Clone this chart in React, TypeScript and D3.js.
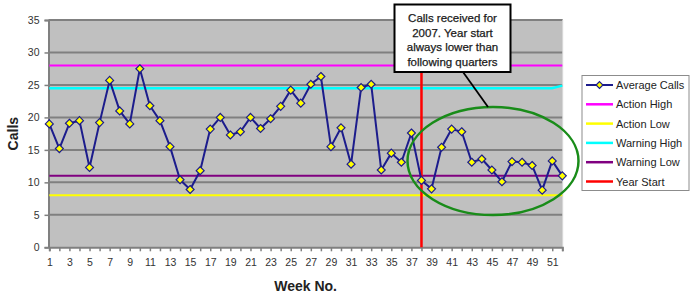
import React, { useEffect, useRef } from 'react';
import * as d3 from 'd3';

const weeks = d3.range(1, 53);
const averageCalls = [
  19.0, 15.2, 19.1, 19.5, 12.3, 19.2, 25.7, 21.0, 19.0, 27.5,
  21.8, 19.5, 15.5, 10.4, 8.9, 11.8, 18.2, 20.0, 17.3, 17.8,
  20.0, 18.3, 19.8, 21.7, 24.2, 22.2, 25.1, 26.3, 15.5, 18.4,
  12.8, 24.6, 25.1, 11.9, 14.5, 13.1, 17.6, 10.3, 9.0, 15.4,
  18.2, 17.8, 13.1, 13.6, 11.9, 10.1, 13.2, 13.1, 12.6, 8.8,
  13.3, 11.0,
];
const actionHigh = 28;
const actionLow = 8;
const warningHigh = 24.5;
const warningHighLastWeek = 24.9;
const warningLow = 11;
const yearStartWeek = 38;
const yTicks = [0, 5, 10, 15, 20, 25, 30, 35];
const xTickLabels = d3.range(1, 53, 2);
const legendItems = [
  { name: 'Average Calls', color: '#1c1c8c' },
  { name: 'Action High', color: '#ff00ff' },
  { name: 'Action Low', color: '#ffff00' },
  { name: 'Warning High', color: '#00ffff' },
  { name: 'Warning Low', color: '#800080' },
  { name: 'Year Start', color: '#ff0000' },
];
const noteLines = ['Calls received for', '2007. Year start', 'always lower than', 'following quarters'];

const App = () => {
  const svgRef = useRef(null);

  useEffect(() => {
    const svg = d3.select(svgRef.current);
    svg.selectAll('*').remove();
    const font = '"Liberation Sans", Arial, sans-serif';

    const left = 48.5, right = 562.7, top = 20, bottom = 247.3;

    const x = d3.scaleLinear().domain([1, 52]).range([49.3, 562.3]);
    const y = d3.scaleLinear().domain([0, 35]).range([bottom, top]);

    // plot background
    svg.append('rect')
      .attr('x', left).attr('y', top)
      .attr('width', right - left).attr('height', bottom - top)
      .attr('fill', '#c0c0c0');

    // gridlines
    svg.append('g')
      .selectAll('line')
      .data(yTicks.filter(d => d > 0))
      .enter().append('line')
      .attr('x1', left).attr('x2', right)
      .attr('y1', d => y(d)).attr('y2', d => y(d))
      .attr('stroke', '#808080')
      .attr('stroke-width', 2);

    svg.append('line')
      .attr('x1', right).attr('x2', right).attr('y1', top).attr('y2', bottom)
      .attr('stroke', '#d8d8d8').attr('stroke-width', 1);

    // y axis
    const yAxis = svg.append('g')
      .attr('transform', `translate(${left},0)`)
      .call(d3.axisLeft(y).tickValues(yTicks).tickSize(4).tickPadding(5));
    yAxis.select('.domain').attr('stroke', '#808080').attr('stroke-width', 2);
    yAxis.selectAll('.tick line').attr('stroke', '#808080').attr('stroke-width', 1.5);
    yAxis.selectAll('text')
      .attr('font-family', font).attr('font-size', 10.5).attr('fill', '#333');

    // x axis
    const xAxis = svg.append('g')
      .attr('transform', `translate(0,${bottom})`)
      .call(d3.axisBottom(x).tickValues(weeks).tickSize(4).tickPadding(7)
        .tickFormat(d => (xTickLabels.includes(d) ? String(d) : '')));
    xAxis.select('.domain').attr('stroke', '#808080').attr('stroke-width', 2);
    xAxis.selectAll('.tick line').attr('stroke', '#808080').attr('stroke-width', 1.5);
    xAxis.selectAll('text')
      .attr('font-family', font).attr('font-size', 10.5).attr('fill', '#333');

    // limit lines
    const hLine = (value, color, w) => svg.append('line')
      .attr('x1', x(1)).attr('x2', x(52))
      .attr('y1', y(value)).attr('y2', y(value))
      .attr('stroke', color).attr('stroke-width', w);
    hLine(actionHigh, '#ff00ff', 2);
    hLine(actionLow, '#ffff00', 2);
    hLine(warningLow, '#800080', 2);

    const whData = weeks.map(w => (w === 52 ? warningHighLastWeek : warningHigh));
    svg.append('path')
      .datum(whData)
      .attr('fill', 'none')
      .attr('stroke', '#00ffff')
      .attr('stroke-width', 2.5)
      .attr('d', d3.line().x((d, i) => x(weeks[i])).y(d => y(d)));

    // year start
    svg.append('line')
      .attr('x1', x(yearStartWeek)).attr('x2', x(yearStartWeek))
      .attr('y1', y(35)).attr('y2', y(0))
      .attr('stroke', '#ff0000').attr('stroke-width', 2.5);

    // average calls
    svg.append('path')
      .datum(averageCalls)
      .attr('fill', 'none')
      .attr('stroke', '#1c1c8c')
      .attr('stroke-width', 2)
      .attr('stroke-linejoin', 'round')
      .attr('d', d3.line().x((d, i) => x(weeks[i])).y(d => y(d)));

    svg.append('g')
      .selectAll('path')
      .data(averageCalls)
      .enter().append('path')
      .attr('transform', (d, i) => `translate(${x(weeks[i])},${y(d)})`)
      .attr('d', d3.symbol(d3.symbolDiamond2, 40))
      .attr('fill', '#ffff00')
      .attr('stroke', '#1c1c8c')
      .attr('stroke-width', 1.2);

    // ellipse and note
    svg.append('ellipse')
      .attr('cx', 493).attr('cy', 161)
      .attr('rx', 85.5).attr('ry', 54)
      .attr('fill', 'none')
      .attr('stroke', '#198c19')
      .attr('stroke-width', 2.5);

    svg.append('line')
      .attr('x1', 463).attr('y1', 72).attr('x2', 488).attr('y2', 107)
      .attr('stroke', '#000').attr('stroke-width', 1.8);

    svg.append('rect')
      .attr('x', 394.5).attr('y', 4.5).attr('width', 116).attr('height', 67.5)
      .attr('fill', '#fff').attr('stroke', '#000').attr('stroke-width', 2);
    svg.append('g')
      .selectAll('text')
      .data(noteLines)
      .enter().append('text')
      .attr('x', 452.5)
      .attr('y', (d, i) => 22.3 + i * 14.4)
      .attr('text-anchor', 'middle')
      .attr('font-family', font).attr('font-size', 11.5)
      .attr('fill', '#1a1a1a')
      .attr('stroke', '#1a1a1a').attr('stroke-width', 0.25)
      .text(d => d);

    // legend
    const lg = svg.append('g');
    lg.append('rect')
      .attr('x', 582).attr('y', 75.5).attr('width', 107).attr('height', 115)
      .attr('fill', '#fff').attr('stroke', '#8c8c8c').attr('stroke-width', 1);
    const item = lg.selectAll('g.item')
      .data(legendItems)
      .enter().append('g')
      .attr('class', 'item')
      .attr('transform', (d, i) => `translate(0,${85 + i * 19.3})`);
    item.append('line')
      .attr('x1', 586).attr('x2', 613)
      .attr('stroke', d => d.color)
      .attr('stroke-width', (d, i) => (i === 0 ? 2 : 2.5));
    item.filter((d, i) => i === 0).append('path')
      .attr('transform', 'translate(599.5,0)')
      .attr('d', d3.symbol(d3.symbolDiamond2, 30))
      .attr('fill', '#ffff00').attr('stroke', '#1c1c8c').attr('stroke-width', 1.2);
    item.append('text')
      .attr('x', 616).attr('y', 4)
      .attr('font-family', font).attr('font-size', 11)
      .attr('fill', '#222')
      .text(d => d.name);

    // axis titles
    svg.append('text')
      .attr('transform', `translate(18,${(top + bottom) / 2}) rotate(-90)`)
      .attr('text-anchor', 'middle')
      .attr('font-family', font).attr('font-size', 14).attr('font-weight', 'bold')
      .attr('fill', '#222')
      .text('Calls');
    svg.append('text')
      .attr('x', (left + right) / 2).attr('y', 291)
      .attr('text-anchor', 'middle')
      .attr('font-family', font).attr('font-size', 14).attr('font-weight', 'bold')
      .attr('fill', '#222')
      .text('Week No.');
  }, []);

  return (
    <div style={{ position: 'fixed', left: 0, top: 0 }}>
      <svg ref={svgRef} width={692} height={298} style={{ display: 'block', background: '#fff' }}></svg>
    </div>
  );
};

export default App;
